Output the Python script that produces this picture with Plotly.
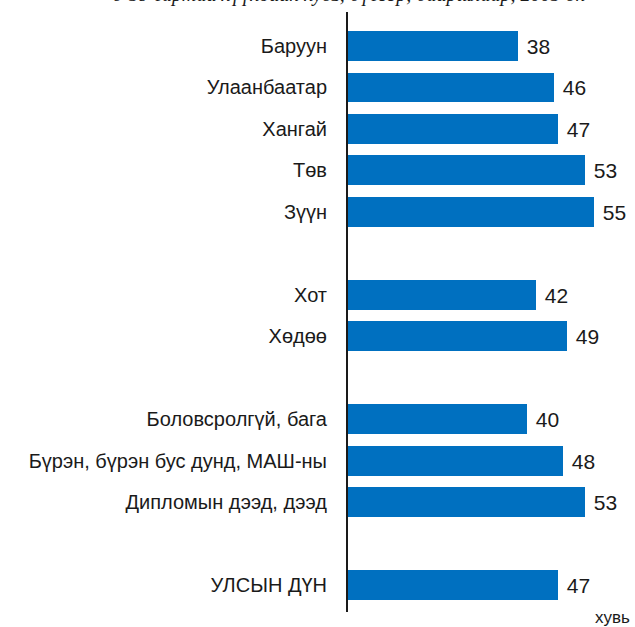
import plotly.graph_objects as go

categories = ["Баруун", "Улаанбаатар", "Хангай", "Төв", "Зүүн",
              "Хот", "Хөдөө",
              "Боловсролгүй, бага", "Бүрэн, бүрэн бус дунд, МАШ-ны", "Дипломын дээд, дээд",
              "УЛСЫН ДҮН"]
values = [38, 46, 47, 53, 55, 42, 49, 40, 48, 53, 47]
slots = [0, 1, 2, 3, 4, 6, 7, 9, 10, 11, 13]
title_text = "6-59 сартай хүүхдийн хувь, бүсээр, байршлаар, 2005 он"
unit_label = "хувь"

fig = go.Figure()
fig.add_trace(go.Bar(
    x=values, y=slots, orientation="h",
    marker=dict(color="#0070C0", line=dict(width=0)),
    width=0.72,
    text=[" " + str(v) for v in values], textposition="outside",
    textfont=dict(family="Liberation Sans, Arial", size=21, color="#1a1a1a"),
    cliponaxis=False,
))

fig.update_layout(
    width=635, height=627,
    margin=dict(l=348, r=0, t=12, b=15),
    paper_bgcolor="white", plot_bgcolor="white",
    showlegend=False,
    bargap=0,
    xaxis=dict(range=[0, 64.2], showgrid=False, zeroline=False, showline=False,
               showticklabels=False, ticks="", automargin=False),
    yaxis=dict(range=[13.65, -0.82], showgrid=False, zeroline=False,
               showline=True, linecolor="#1a1a1a", linewidth=2,
               tickmode="array", tickvals=slots, ticktext=categories,
               ticks="", ticklen=0, automargin=False,
               tickfont=dict(family="Liberation Sans, Arial", size=20, color="#1a1a1a")),
    annotations=[
        dict(text=unit_label, xref="paper", yref="paper", x=1.0, y=0, xanchor="right",
             yanchor="middle", yshift=-5, xshift=-3, showarrow=False,
             font=dict(family="Liberation Sans, Arial", size=17, color="#1a1a1a")),
        dict(text="<i>" + title_text + "</i>", xref="paper", yref="paper", x=0.0, y=1,
             xanchor="center", yanchor="bottom", yshift=4, showarrow=False,
             font=dict(family="Liberation Serif, serif", size=20, color="#1a1a1a")),
    ],
)
fig.update_yaxes(ticklabelstandoff=15)

fig.write_html("out.html", config={"displayModeBar": False},
               post_script="document.body.style.margin='0';document.body.style.overflow='hidden';")
